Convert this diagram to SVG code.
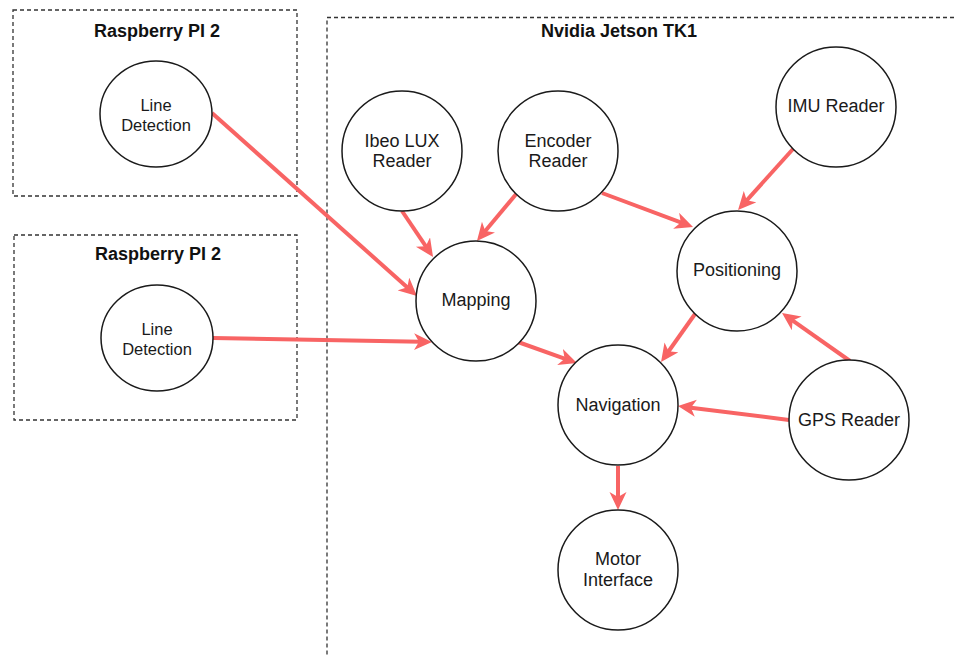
<svg xmlns="http://www.w3.org/2000/svg" width="957" height="656" viewBox="0 0 957 656">
  <style>
    .box { fill: none; stroke: #333; stroke-width: 1.3; stroke-dasharray: 4 3; }
    .title { font-family: "Liberation Sans", Arial, sans-serif; font-weight: bold; font-size: 18px; fill: #111; text-anchor: middle; }
    .node { fill: #fff; stroke: #1a1a1a; stroke-width: 1.5; }
    .lbl { font-family: "Liberation Sans", Arial, sans-serif; font-size: 18px; fill: #1a1a1a; text-anchor: middle; }
    .lbl-s { font-family: "Liberation Sans", Arial, sans-serif; font-size: 16.5px; fill: #1a1a1a; text-anchor: middle; }
    .edge { stroke: #F86464; stroke-width: 4; fill: none; marker-end: url(#arrow); }
  </style>
  <defs>
    <marker id="arrow" markerUnits="userSpaceOnUse" markerWidth="19" markerHeight="18" refX="7" refY="8.5" orient="auto">
      <path d="M0,0 L18,8.5 L0,17 L5,8.5 Z" fill="#F86464"/>
    </marker>
  </defs>
  <rect width="957" height="656" fill="#fff"/>

  <g id="rpi1">
    <rect class="box" x="13" y="10" width="284" height="186"/>
    <text class="title" x="157" y="37">Raspberry PI 2</text>
  </g>
  <g id="rpi2">
    <rect class="box" x="14" y="235" width="283" height="185"/>
    <text class="title" x="158" y="260">Raspberry PI 2</text>
  </g>
  <g id="jetson">
    <rect class="box" x="327" y="17.5" width="700" height="700"/>
    <text class="title" x="619" y="37">Nvidia Jetson TK1</text>
  </g>

  <g id="connectors">
    <line class="edge" x1="212" y1="113" x2="408.8" y2="288.7"/>
    <line class="edge" x1="213" y1="338" x2="421" y2="341.8"/>
    <line class="edge" x1="402" y1="211" x2="426.9" y2="247.9"/>
    <line class="edge" x1="517" y1="193" x2="484" y2="232.5"/>
    <line class="edge" x1="602" y1="193" x2="682.7" y2="223.2"/>
    <line class="edge" x1="793" y1="149" x2="745.4" y2="201.8"/>
    <line class="edge" x1="518" y1="342" x2="566.6" y2="359.3"/>
    <line class="edge" x1="695" y1="314" x2="667.4" y2="353"/>
    <line class="edge" x1="850" y1="361" x2="791" y2="319.3"/>
    <line class="edge" x1="789" y1="420" x2="688.9" y2="407.4"/>
    <line class="edge" x1="618" y1="466" x2="618" y2="499"/>
  </g>

  <g id="line-detection-1">
    <ellipse class="node" cx="156" cy="114" rx="56" ry="53"/>
    <text class="lbl-s" x="156" y="111">Line</text>
    <text class="lbl-s" x="156" y="131">Detection</text>
  </g>
  <g id="line-detection-2">
    <ellipse class="node" cx="157" cy="338" rx="56" ry="53"/>
    <text class="lbl-s" x="157" y="335">Line</text>
    <text class="lbl-s" x="157" y="355">Detection</text>
  </g>
  <g id="ibeo">
    <circle class="node" cx="402" cy="151" r="60"/>
    <text class="lbl" x="402" y="147">Ibeo LUX</text>
    <text class="lbl" x="402" y="167">Reader</text>
  </g>
  <g id="encoder">
    <circle class="node" cx="558" cy="151" r="60"/>
    <text class="lbl" x="558" y="147">Encoder</text>
    <text class="lbl" x="558" y="167">Reader</text>
  </g>
  <g id="imu">
    <circle class="node" cx="836" cy="107" r="60"/>
    <text class="lbl" x="836" y="112">IMU Reader</text>
  </g>
  <g id="mapping">
    <circle class="node" cx="476" cy="301" r="60"/>
    <text class="lbl" x="476" y="306">Mapping</text>
  </g>
  <g id="positioning">
    <circle class="node" cx="737" cy="271" r="60"/>
    <text class="lbl" x="737" y="276">Positioning</text>
  </g>
  <g id="navigation">
    <circle class="node" cx="618" cy="405" r="60"/>
    <text class="lbl" x="618" y="411">Navigation</text>
  </g>
  <g id="gps">
    <circle class="node" cx="849" cy="420" r="60"/>
    <text class="lbl" x="849" y="426">GPS Reader</text>
  </g>
  <g id="motor">
    <circle class="node" cx="618" cy="570" r="60"/>
    <text class="lbl" x="618" y="565">Motor</text>
    <text class="lbl" x="618" y="586">Interface</text>
  </g>
</svg>
